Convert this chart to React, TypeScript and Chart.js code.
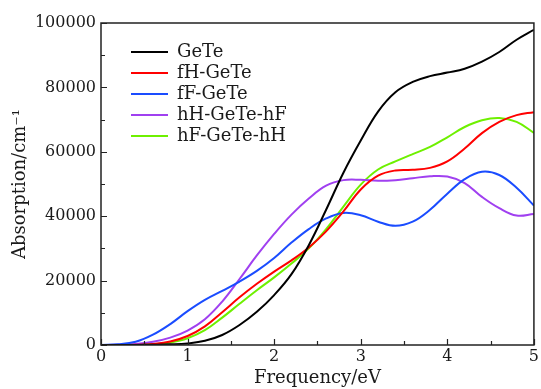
import React, { useEffect, useRef } from 'react';
import { Chart, registerables } from 'chart.js';

Chart.register(...registerables);

// ---- data ----
const frequency = [0, 0.2, 0.4, 0.6, 0.8, 1.0, 1.2, 1.4, 1.6, 1.8, 2.0, 2.2, 2.4, 2.6, 2.8, 3.0, 3.2, 3.4, 3.6, 3.8, 4.0, 4.2, 4.4, 4.6, 4.8, 5.0];

const geTe = [0, 0, 20, 80, 200, 500, 1300, 3100, 6200, 10300, 15500, 22000, 31000, 42000, 53500, 63500, 72500, 78500, 81700, 83500, 84600, 85800, 88000, 91000, 94800, 97900];
const fhGeTe = [0, 0, 80, 350, 1100, 2800, 5800, 10200, 14800, 19000, 22800, 26300, 30300, 35300, 41500, 48300, 52600, 54200, 54400, 55000, 57000, 61000, 65800, 69300, 71400, 72300];
const ffGeTe = [0, 200, 1000, 3200, 6500, 10500, 14000, 16800, 19700, 23000, 27000, 31800, 36000, 39300, 41000, 40300, 38300, 37000, 38300, 42000, 47000, 51500, 53800, 52800, 48800, 43300];
const hhGeTeHf = [0, 50, 300, 1000, 2300, 4500, 8000, 13500, 20500, 27800, 34500, 40500, 45500, 49500, 51200, 51300, 51000, 51200, 51800, 52400, 52300, 50300, 46000, 42500, 40200, 40700];
const hfGeTeHh = [0, 0, 50, 250, 800, 2100, 4600, 8500, 12800, 17000, 21000, 25300, 30000, 36000, 43000, 49800, 54500, 57000, 59300, 61500, 64500, 67700, 69800, 70500, 69300, 65900];

const seriesNames = ['GeTe', 'fH-GeTe', 'fF-GeTe', 'hH-GeTe-hF', 'hF-GeTe-hH'];
const seriesValues = [geTe, fhGeTe, ffGeTe, hhGeTeHf, hfGeTeHh];
const seriesColors = ['#000000', '#ff0000', '#1a4cff', '#a040f0', '#6ef000'];

const xMin = 0;
const xMax = 5;
const xStep = 1;
const xMinorStep = 0.5;
const yMin = 0;
const yMax = 100000;
const yStep = 20000;
const yMinorStep = 10000;

const xTitle = 'Frequency/eV';
const yTitle = 'Absorption/cm\u207B\u00B9';

const FONT = 'DejaVu Serif';
const TEXT = '#1a1a1a';

const framePlugin = {
  id: 'frame',
  afterDatasetsDraw(chart: any) {
    const { ctx, chartArea: a, scales } = chart;
    const x = scales.x;
    const y = scales.y;
    ctx.save();
    ctx.strokeStyle = '#222';
    ctx.lineWidth = 1.5;
    ctx.strokeRect(a.left, a.top, a.right - a.left, a.bottom - a.top);
    ctx.lineWidth = 1.2;
    ctx.beginPath();
    for (let v = xMin; v <= xMax + 1e-9; v += xMinorStep) {
      const px = Math.round(x.getPixelForValue(v)) + 0.5;
      const major = Math.abs(v / xStep - Math.round(v / xStep)) < 1e-6;
      const len = major ? 6 : 4;
      ctx.moveTo(px, a.bottom);
      ctx.lineTo(px, a.bottom - len);
    }
    for (let v = yMin; v <= yMax + 1e-9; v += yMinorStep) {
      const py = Math.round(y.getPixelForValue(v)) + 0.5;
      const major = Math.abs(v / yStep - Math.round(v / yStep)) < 1e-6;
      const len = major ? 6 : 4;
      ctx.moveTo(a.left, py);
      ctx.lineTo(a.left + len, py);
    }
    ctx.stroke();
    ctx.restore();
  },
};

const legendPlacePlugin = {
  id: 'legendPlace',
  afterLayout(chart: any) {
    const l = chart.legend;
    if (!l) return;
    l.left = chart.chartArea.left + 27;
    l.top = chart.chartArea.top + 17;
  },
};

export default function App() {
  const ref = useRef<HTMLCanvasElement>(null);

  useEffect(() => {
    if (!ref.current) return;
    const datasets = seriesNames.map((name, i) => ({
      label: name,
      data: frequency.map((f, j) => ({ x: f, y: seriesValues[i][j] })),
      borderColor: seriesColors[i],
      backgroundColor: seriesColors[i],
      borderWidth: 2,
      pointRadius: 0,
      fill: false,
      tension: 0.4,
    }));

    const chart = new Chart(ref.current, {
      type: 'line',
      data: { datasets },
      plugins: [framePlugin, legendPlacePlugin],
      options: {
        animation: false,
        responsive: false,
        maintainAspectRatio: false,
        layout: { padding: { top: 23, right: 6, left: 0, bottom: 0 } },
        font: { family: FONT },
        plugins: {
          tooltip: { enabled: false },
          legend: {
            position: 'chartArea',
            align: 'start',
            labels: {
              boxWidth: 37,
              boxHeight: 2,
              padding: 3,
              color: TEXT,
              font: { family: FONT, size: 18 },
              generateLabels(c: any) {
                const items = (Chart.defaults.plugins.legend.labels as any).generateLabels(c);
                items.forEach((it: any) => {
                  it.fillStyle = it.strokeStyle;
                  it.lineWidth = 0;
                });
                return items;
              },
            },
          },
        },
        scales: {
          x: {
            type: 'linear',
            min: xMin,
            max: xMax,
            ticks: {
              stepSize: xStep,
              color: TEXT,
              padding: 2,
              font: { family: FONT, size: 16 },
              maxRotation: 0,
            },
            grid: { display: false, drawTicks: false },
            border: { display: false },
            title: {
              display: true,
              text: xTitle,
              color: TEXT,
              font: { family: FONT, size: 18 },
              padding: { top: 0, bottom: 0 },
            },
            afterFit(scale: any) {
              scale.height = 44;
            },
          },
          y: {
            type: 'linear',
            min: yMin,
            max: yMax,
            ticks: {
              stepSize: yStep,
              color: TEXT,
              padding: 5,
              font: { family: FONT, size: 16 },
              callback: (v: any) => String(v),
            },
            grid: { display: false, drawTicks: false },
            border: { display: false },
            title: {
              display: true,
              text: yTitle,
              color: TEXT,
              font: { family: FONT, size: 18 },
              padding: { top: 10, bottom: 0 },
            },
            afterFit(scale: any) {
              scale.width = 101;
            },
          },
        },
      } as any,
    });
    return () => chart.destroy();
  }, []);

  return (
    <div style={{ position: 'fixed', left: 0, top: 0, width: 541, height: 389, background: '#fff' }}>
      <canvas ref={ref} width={541} height={389} style={{ display: 'block', width: 541, height: 389 }} />
    </div>
  );
}
